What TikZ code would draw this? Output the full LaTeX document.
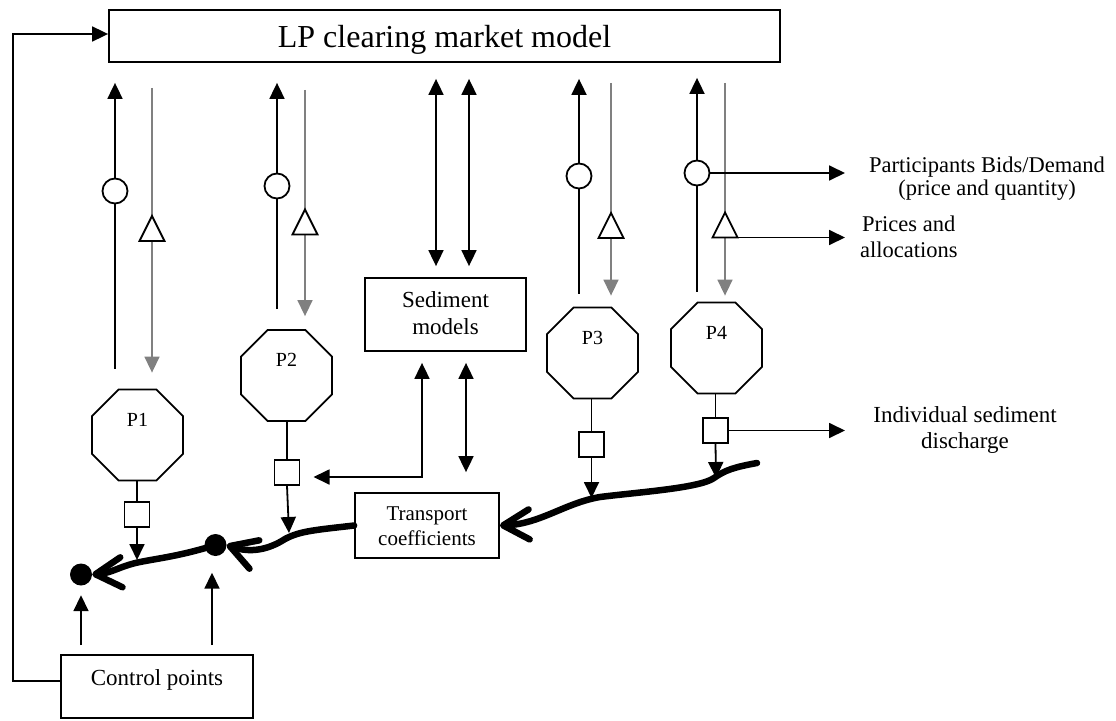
\documentclass[tikz,border=0pt]{standalone}
\usepackage{fontspec}
\setmainfont{Liberation Serif}
\usetikzlibrary{arrows.meta,shapes.geometric,calc}
\definecolor{gline}{RGB}{128,128,128}
\begin{document}
\begin{tikzpicture}[x=1pt,y=-1pt,
  box/.style={draw,line width=1.8pt,inner sep=0pt},
  oct/.style={draw,line width=1.8pt,regular polygon,regular polygon sides=8,minimum size=98.5pt,inner sep=0pt},
  sqbox/.style={draw,line width=1.8pt,minimum size=25pt,inner sep=0pt},
  ring/.style={draw,fill=white,line width=1.8pt,circle,minimum size=25pt,inner sep=0pt},
  blackdot/.style={fill=black,circle,minimum size=22pt,inner sep=0pt},
  ln/.style={line width=1.8pt},
  arr/.style={line width=1.8pt,-{Triangle[length=16pt,width=15pt]}},
  darr/.style={line width=1.8pt,{Triangle[length=16pt,width=15pt]}-{Triangle[length=16pt,width=15pt]}},
  garr/.style={line width=1.6pt,draw=gline,-{Triangle[length=16pt,width=15pt]}},
  river/.style={line width=6.5pt,line cap=round,line join=round,-{Straight Barb[length=26pt,width=30pt,round]}},
  txt/.style={font=\fontsize{23pt}{27pt}\selectfont,inner sep=0pt,anchor=base},
  ptxt/.style={font=\fontsize{20pt}{24pt}\selectfont,inner sep=0pt,anchor=base},
  ttxt/.style={font=\fontsize{21pt}{24pt}\selectfont,inner sep=0pt,anchor=base},
]
\useasboundingbox (0,0) rectangle (1116,720);

% main boxes
\node[box,minimum width=671pt,minimum height=52pt] (lp) at (444.5,36) {};
\node[font=\fontsize{32pt}{36pt}\selectfont,inner sep=0pt,anchor=base] (lptxt) at (444.5,47) {LP clearing market model};

\node[box,minimum width=161pt,minimum height=73pt] (sed) at (445.5,314.5) {};
\node[txt] (sedt1) at (445.5,307) {Sediment};
\node[txt] (sedt2) at (445.5,334) {models};

\node[box,minimum width=144pt,minimum height=65pt] (tc) at (427,525.5) {};
\node[ttxt] (tct1) at (427,520.5) {Transport};
\node[ttxt] (tct2) at (427,545) {coefficients};

\node[box,minimum width=192pt,minimum height=63pt] (ctrl) at (157,686.5) {};
\node[txt] (ctrlt) at (157,685) {Control points};

% participants
\node[oct] (p1) at (137.5,435) {};
\node[ptxt] (p1t) at (137.5,426) {P1};
\node[oct] (p2) at (286.5,375.5) {};
\node[ptxt] (p2t) at (286.5,366) {P2};
\node[oct] (p3) at (592.5,353) {};
\node[ptxt] (p3t) at (592.5,344) {P3};
\node[oct] (p4) at (716.5,348) {};
\node[ptxt] (p4t) at (716.5,339) {P4};

% discharge squares
\node[sqbox] (sq1) at (137,514.5) {};
\node[sqbox] (sq2) at (287,472.5) {};
\node[sqbox] (sq3) at (591.5,444.5) {};
\node[sqbox] (sq4) at (715.5,430.5) {};
\draw[ln] (sq1.north |- p1.south) -- (sq1.north);
\draw[ln] (sq2.north |- p2.south) -- (sq2.north);
\draw[ln] (sq3.north |- p3.south) -- (sq3.north);
\draw[ln] (sq4.north |- p4.south) -- (sq4.north);

% control dots
\node[blackdot] (d1) at (81,574.5) {};
\node[blackdot] (d2) at (215.5,545) {};

% column coordinates
\coordinate (xa1) at (115,0);  \coordinate (xg1) at (152,0);
\coordinate (xa2) at (277,0);  \coordinate (xg2) at (305,0);
\coordinate (xa3) at (579,0);  \coordinate (xg3) at (611,0);
\coordinate (xa4) at (697,0);  \coordinate (xg4) at (725,0);

% bids (black, up)
\draw[arr,shorten <=20pt,shorten >=20pt] (xa1 |- p1.north) -- (xa1 |- lp.south);
\draw[arr,shorten <=20pt,shorten >=20pt] (xa2 |- p2.north) -- (xa2 |- lp.south);
\draw[arr,shorten <=13pt,shorten >=16pt] (xa3 |- p3.north) -- (xa3 |- lp.south);
\draw[arr,shorten <=10pt,shorten >=15pt] (xa4 |- p4.north) -- (xa4 |- lp.south);

% prices (gray, down)
\draw[garr,shorten <=25pt,shorten >=16pt] (xg1 |- lp.south) -- (xg1 |- p1.north);
\draw[garr,shorten <=27pt,shorten >=13pt] (xg2 |- lp.south) -- (xg2 |- p2.north);
\draw[garr,shorten <=20pt,shorten >=11pt] (xg3 |- lp.south) -- (xg3 |- p3.north);
\draw[garr,shorten <=20pt,shorten >=6pt] (xg4 |- lp.south) -- (xg4 |- p4.north);

% circle markers
\node[ring] (r1) at (115,191) {};
\node[ring] (r2) at (277,186) {};
\node[ring] (r3) at (579,176) {};
\node[ring] (r4) at (697,173) {};

% triangle markers
\coordinate (t1) at (152,228.5);
\coordinate (t2) at (305,222);
\coordinate (t3) at (611,225.5);
\coordinate (t4) at (725,225);
\foreach \t in {t1,t2,t3,t4}{
  \draw[ln,fill=white] (\t) ++(0,-12.5) -- ++(12.5,25) -- ++(-25,0) -- cycle;
}
\coordinate (t4r) at (737.5,237.5);

% outputs to the right
\coordinate (xr) at (845,0);
\draw[arr] (r4.east) -- (r4.east -| xr);
\draw[arr] (t4r) -- (t4r -| xr);
\draw[arr] (sq4.east) -- (sq4.east -| xr);

\node[font=\fontsize{22.5pt}{26pt}\selectfont,inner sep=0pt,anchor=base] (lb1) at (987,172) {Participants Bids/Demand};
\node[font=\fontsize{22.5pt}{26pt}\selectfont,inner sep=0pt,anchor=base] (lb2) at (987,195) {(price and quantity)};
\node[font=\fontsize{22.5pt}{26pt}\selectfont,inner sep=0pt,anchor=base west] (lb3) at (862,231) {Prices and};
\node[font=\fontsize{22.5pt}{26pt}\selectfont,inner sep=0pt,anchor=base west] (lb4) at (860,257) {allocations};
\node[txt] (lb5) at (965,422.5) {Individual sediment};
\node[txt] (lb6) at (965,448) {discharge};

% sediment model links
\coordinate (xs1) at (436,0); \coordinate (xs2) at (469,0);
\coordinate (xs3) at (422,0); \coordinate (xs4) at (466,0);
\draw[darr,shorten <=16pt,shorten >=11pt] (xs1 |- lp.south) -- (xs1 |- sed.north);
\draw[darr,shorten <=16pt,shorten >=11pt] (xs2 |- lp.south) -- (xs2 |- sed.north);
\coordinate (sq2a) at (299.5,477);
\draw[darr,shorten <=11pt,shorten >=14pt] (xs3 |- sed.south) |- (sq2a);
\draw[darr,shorten <=11pt,shorten >=20pt] (xs4 |- sed.south) -- (xs4 |- tc.north);

% discharges into the river
\coordinate (rv1) at (137,560);
\coordinate (rv2) at (289,533);
\coordinate (rv3) at (591.5,498);
\coordinate (rv4) at (716,478);
\draw[arr] (sq1.south) -- (rv1);
\draw[arr] (sq2.south) -- (rv2);
\draw[arr] (sq3.south) -- (rv3);
\draw[arr] (sq4.south) -- (rv4);

% river
\coordinate (rs) at (757,463);
\draw[river] (rs) .. controls (735,467) and (725,470) .. (714,478)
  .. controls (700,488) and (640,492) .. (600,497)
  .. controls (565,503) and (540,524) .. (tc.east);
\draw[river] (tc.west) .. controls (315,530) and (300,531) .. (285,539)
  .. controls (268,550) and (250,553) .. (d2.east);
\draw[river] (d2.center) .. controls (180,556) and (160,558) .. (140,562)
  .. controls (120,566) and (112,573) .. (d1.east);

% control point arrows
\coordinate (xc1) at (81,0); \coordinate (xc2) at (212,0);
\draw[arr,shorten <=9pt,shorten >=9.5pt] (xc1 |- ctrl.north) -- (xc1 |- d1.south);
\draw[arr,shorten <=9pt,shorten >=16.5pt] (xc2 |- ctrl.north) -- (xc2 |- d2.south);

% feedback loop
\coordinate (fb) at (13,34);
\draw[arr] ([yshift=5.5pt]ctrl.west) -| (fb) -- ([yshift=2pt]lp.west);
\end{tikzpicture}
\end{document}
